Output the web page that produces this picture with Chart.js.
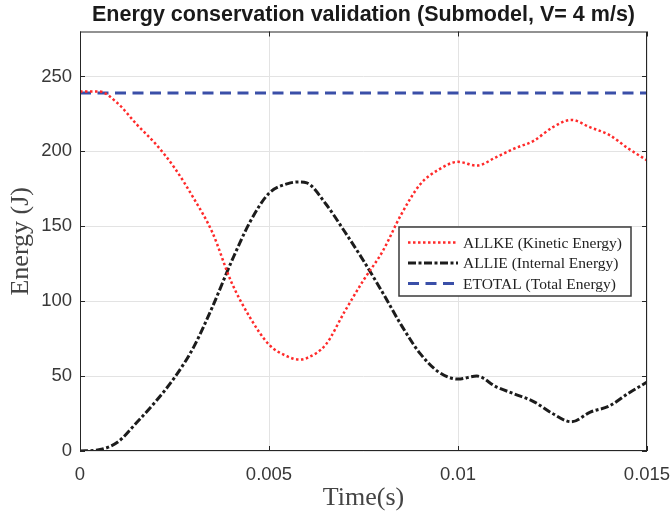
<!DOCTYPE html>
<html>
<head>
<meta charset="utf-8">
<script src="https://cdn.jsdelivr.net/npm/chart.js@4"></script>
<style>
  html, body { margin: 0; padding: 0; background: #fff; }
  #wrap { width: 671px; height: 516px; }
</style>
</head>
<body>
<div id="wrap"><canvas id="energyChart" width="671" height="516"></canvas></div>
<script>
// time (s) and energy values (J)
const timeS = [0, 0.0005, 0.001, 0.0015, 0.002, 0.0025, 0.003, 0.0035, 0.004, 0.0045,
  0.005, 0.0055, 0.0058, 0.006, 0.0065, 0.007, 0.0075, 0.008, 0.0085, 0.009, 0.0095,
  0.01, 0.0105, 0.011, 0.0115, 0.012, 0.0125, 0.013, 0.0135, 0.014, 0.0145, 0.015];
const allke = [240, 240, 232, 218, 205, 189, 169, 146, 113, 89,
  71, 63, 61, 62, 71, 93, 114, 133, 158, 178, 188,
  193, 190.5, 196, 202, 207, 216, 221, 216, 211, 202, 194];
const allie = [0, 0.8, 6, 19, 33, 49, 69, 96, 126, 153,
  172, 178.5, 179.6, 179, 165, 146.5, 127, 106, 84, 65, 52.5,
  48, 50, 43, 38, 33, 25, 19.5, 26, 30, 38.4, 46];
const etotal = [239, 239, 239, 239, 239, 239, 239, 239, 239, 239,
  239, 239, 239, 239, 239, 239, 239, 239, 239, 239, 239,
  239, 239, 239, 239, 239, 239, 239, 239, 239, 239, 239];
const seriesNames = ['ALLKE (Kinetic Energy)', 'ALLIE (Internal Energy)', 'ETOTAL (Total Energy)'];
const yTicks = [0, 50, 100, 150, 200, 250];
const xTicks = [0, 0.005, 0.01, 0.015];

const toPoints = vals => vals.map((v, i) => ({ x: timeS[i], y: v }));

const styles = [
  { color: '#ff2a2a', width: 2.5, dash: [2.5, 2.5] },
  { color: '#1c1c1c', width: 3, dash: [8, 2.5, 3, 2.5] },
  { color: '#3a4fa8', width: 3, dash: [11, 6.5] }
];

// axes box, inward tick marks and the legend inside the plot
const boxPlugin = {
  id: 'boxPlugin',
  afterDraw(chart) {
    const ctx = chart.ctx;
    const a = chart.chartArea;
    const xs = chart.scales.x, ys = chart.scales.y;
    ctx.save();
    ctx.strokeStyle = '#262626';
    ctx.lineWidth = 1;
    ctx.setLineDash([]);
    ctx.strokeRect(a.left + 0.5, a.top + 0.5, a.right - a.left - 1, a.bottom - a.top - 1);
    const tl = 5;
    ctx.beginPath();
    xTicks.forEach(t => {
      const px = Math.round(xs.getPixelForValue(t)) + 0.5;
      ctx.moveTo(px, a.bottom); ctx.lineTo(px, a.bottom - tl);
      ctx.moveTo(px, a.top); ctx.lineTo(px, a.top + tl);
    });
    yTicks.forEach(t => {
      const py = Math.round(ys.getPixelForValue(t)) + 0.5;
      ctx.moveTo(a.left, py); ctx.lineTo(a.left + tl, py);
      ctx.moveTo(a.right, py); ctx.lineTo(a.right - tl, py);
    });
    ctx.stroke();

    // legend
    const bw = 232, bh = 69;
    const bx = a.right - 16 - bw, by = 227;
    ctx.fillStyle = '#fff';
    ctx.fillRect(bx, by, bw, bh);
    ctx.strokeStyle = '#3a3a3a';
    ctx.lineWidth = 1.5;
    ctx.strokeRect(bx, by, bw, bh);
    ctx.font = '15.5px "Liberation Serif", "Times New Roman", serif';
    ctx.textBaseline = 'middle';
    ctx.fillStyle = '#222';
    seriesNames.forEach((name, i) => {
      const cy = by + 15.5 + i * 20.5;
      const st = styles[i];
      ctx.beginPath();
      ctx.strokeStyle = st.color;
      ctx.lineWidth = st.width;
      ctx.setLineDash(st.dash);
      ctx.moveTo(bx + 9, cy);
      ctx.lineTo(bx + 59, cy);
      ctx.stroke();
      ctx.setLineDash([]);
      ctx.fillText(name, bx + 64, cy + 1);
    });
    ctx.restore();
  }
};

const ctx = document.getElementById('energyChart').getContext('2d');
new Chart(ctx, {
  type: 'line',
  data: {
    datasets: [allke, allie, etotal].map((vals, i) => ({
      label: seriesNames[i],
      data: toPoints(vals),
      borderColor: styles[i].color,
      borderWidth: styles[i].width,
      borderDash: styles[i].dash,
      pointRadius: 0,
      fill: false,
      cubicInterpolationMode: 'monotone'
    }))
  },
  options: {
    responsive: false,
    animation: false,
    events: [],
    layout: { padding: { left: 0, right: 24, top: 0, bottom: 0 } },
    plugins: {
      legend: { display: false },
      tooltip: { enabled: false },
      title: {
        display: true,
        fullSize: false,
        text: 'Energy conservation validation (Submodel, V= 4 m/s)',
        color: '#1a1a1a',
        font: { family: '"Liberation Sans", Arial, sans-serif', size: 21.5, weight: 'bold', lineHeight: 1.2 },
        padding: { top: 2.6, bottom: 3.1 }
      }
    },
    scales: {
      x: {
        type: 'linear',
        min: 0,
        max: 0.015,
        afterBuildTicks: s => { s.ticks = xTicks.map(v => ({ value: v })); },
        afterFit: s => { s.height = 65; s.paddingLeft = 0; s.paddingRight = 0; },
        ticks: {
          color: '#383838',
          font: { family: '"Liberation Sans", Arial, sans-serif', size: 18.5 },
          padding: 13,
          maxRotation: 0,
          callback: v => String(+v.toFixed(4))
        },
        grid: { color: '#e3e3e3', drawTicks: false },
        border: { display: false },
        title: {
          display: true,
          text: 'Time(s)',
          color: '#444',
          font: { family: '"Liberation Serif", "Times New Roman", serif', size: 26 },
          padding: { top: 0, bottom: 2 }
        }
      },
      y: {
        min: 0,
        max: 280,
        afterBuildTicks: s => { s.ticks = yTicks.map(v => ({ value: v })); },
        afterFit: s => { s.width = 80; s.paddingTop = 0; s.paddingBottom = 0; },
        ticks: {
          color: '#383838',
          font: { family: '"Liberation Sans", Arial, sans-serif', size: 18.5 },
          padding: 8
        },
        grid: { color: '#e3e3e3', drawTicks: false },
        border: { display: false },
        title: {
          display: true,
          text: 'Energy (J)',
          color: '#444',
          font: { family: '"Liberation Serif", "Times New Roman", serif', size: 26 },
          padding: { top: 6, bottom: 0 }
        }
      }
    }
  },
  plugins: [boxPlugin]
});
</script>
</body>
</html>
